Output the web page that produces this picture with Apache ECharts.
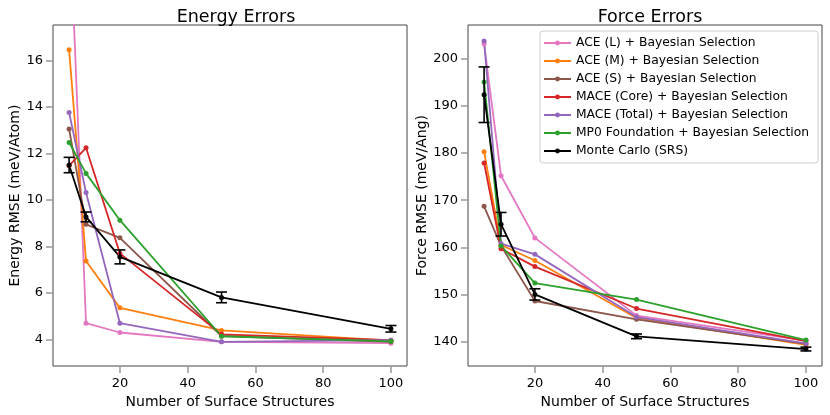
<!DOCTYPE html>
<html>
<head>
<meta charset="utf-8">
<script src="https://cdn.jsdelivr.net/npm/echarts/dist/echarts.min.js"></script>
<style>
  html, body { margin:0; padding:0; background:#fff; }
  #main { width:830px; height:415px; }
</style>
</head>
<body>
<div id="main"></div>
<script>
// x: number of surface structures
var xs = [5, 10, 20, 50, 100];

// 能量误差 Energy RMSE (meV/Atom)
var aceL_E      = [22.8, 4.70, 4.30, 3.90, 3.84];
var aceM_E      = [16.46, 7.37, 5.36, 4.39, 3.95];
var aceS_E      = [13.05, 8.95, 8.37, 4.15, 3.90];
var maceCore_E  = [11.47, 12.24, 7.70, 4.22, 3.97];
var maceTotal_E = [13.76, 10.32, 4.70, 3.90, 3.97];
var mp0_E       = [12.47, 11.14, 9.13, 4.14, 3.92];
var mc_E        = [11.50, 9.27, 7.55, 5.81, 4.46];
var mcErr_E     = [0.33, 0.21, 0.30, 0.23, 0.14];

// 力误差 Force RMSE (meV/Ang)
var aceL_F      = [203.2, 175.2, 162.0, 145.5, 140.2];
var aceM_F      = [180.3, 160.5, 157.2, 145.0, 139.3];
var aceS_F      = [168.7, 160.3, 148.6, 144.7, 139.5];
var maceCore_F  = [177.9, 159.7, 155.9, 147.0, 140.1];
var maceTotal_F = [203.8, 160.8, 158.5, 145.2, 139.6];
var mp0_F       = [195.1, 160.3, 152.4, 148.9, 140.3];
var mc_F        = [192.4, 164.9, 150.0, 141.1, 138.4];
var mcErr_F     = [5.9, 2.5, 1.2, 0.5, 0.4];

var names = ['ACE (L) + Bayesian Selection', 'ACE (M) + Bayesian Selection',
             'ACE (S) + Bayesian Selection', 'MACE (Core) + Bayesian Selection',
             'MACE (Total) + Bayesian Selection', 'MP0 Foundation + Bayesian Selection',
             'Monte Carlo (SRS)'];
var colors = ['#e377c2', '#ff7f0e', '#8c564b', '#d62728', '#9467bd', '#2ca02c', '#000000'];

var xTicks = [20, 40, 60, 80, 100];
var yTicksE = [4, 6, 8, 10, 12, 14, 16];
var yTicksF = [140, 150, 160, 170, 180, 190, 200];

var FONT = 'DejaVu Sans';

function pairs(ys) {
    var out = [];
    for (var i = 0; i < xs.length; i++) out.push([xs[i], ys[i]]);
    return out;
}
function errRows(ys, es) {
    var out = [];
    for (var i = 0; i < xs.length; i++) out.push([xs[i], ys[i] - es[i], ys[i] + es[i]]);
    return out;
}

function xAxisFor(idx) {
    return {
        type: 'value', gridIndex: idx, min: 0.25, max: 104.75,
        name: 'Number of Surface Structures', nameLocation: 'middle', nameGap: 24,
        nameTextStyle: { fontFamily: FONT, fontSize: 14, color: '#000' },
        axisLine: { show: false },
        splitLine: { show: false },
        axisTick: { show: true, inside: false, length: 7, customValues: xTicks,
                    lineStyle: { color: '#999', width: 1.5 } },
        axisLabel: { customValues: xTicks, margin: 11, fontFamily: FONT, fontSize: 13, color: '#000' }
    };
}
function yAxisFor(idx, min, max, ticks, name, gap) {
    return {
        type: 'value', gridIndex: idx, min: min, max: max,
        name: name, nameLocation: 'middle', nameGap: gap,
        nameTextStyle: { fontFamily: FONT, fontSize: 14, color: '#000' },
        axisLine: { show: false },
        splitLine: { show: false },
        axisTick: { show: true, inside: false, length: 7, customValues: ticks,
                    lineStyle: { color: '#999', width: 1.5 } },
        axisLabel: { customValues: ticks, margin: 10, fontFamily: FONT, fontSize: 13, color: '#000' }
    };
}

function lineSeries(name, color, ys, idx) {
    return {
        name: name, type: 'line', xAxisIndex: idx, yAxisIndex: idx,
        data: pairs(ys), symbol: 'circle', symbolSize: 5, clip: true,
        itemStyle: { color: color }, lineStyle: { color: color, width: 1.8 },
        emphasis: { disabled: true }, animation: false
    };
}
// 误差棒
function errSeries(ys, es, idx) {
    return {
        name: 'mc-err-' + idx, type: 'custom', xAxisIndex: idx, yAxisIndex: idx,
        data: errRows(ys, es), animation: false, z: 5,
        renderItem: function (params, api) {
            var lo = api.coord([api.value(0), api.value(1)]);
            var hi = api.coord([api.value(0), api.value(2)]);
            var hw = 5.5;
            var st = { stroke: '#000', lineWidth: 1.6 };
            return { type: 'group', children: [
                { type: 'line', shape: { x1: lo[0], y1: lo[1], x2: hi[0], y2: hi[1] }, style: st },
                { type: 'line', shape: { x1: lo[0] - hw, y1: lo[1], x2: lo[0] + hw, y2: lo[1] }, style: st },
                { type: 'line', shape: { x1: hi[0] - hw, y1: hi[1], x2: hi[0] + hw, y2: hi[1] }, style: st }
            ]};
        }
    };
}

var energySets = [aceL_E, aceM_E, aceS_E, maceCore_E, maceTotal_E, mp0_E, mc_E];
var forceSets  = [aceL_F, aceM_F, aceS_F, maceCore_F, maceTotal_F, mp0_F, mc_F];

var series = [];
for (var i = 0; i < names.length; i++) series.push(lineSeries(names[i], colors[i], energySets[i], 0));
series.push(errSeries(mc_E, mcErr_E, 0));
for (var i = 0; i < names.length; i++) series.push(lineSeries(names[i], colors[i], forceSets[i], 1));
series.push(errSeries(mc_F, mcErr_F, 1));

var myChart = echarts.init(document.getElementById('main'));
var option = {
    backgroundColor: '#fff',
    animation: false,
    textStyle: { fontFamily: FONT },
    title: [
        { text: 'Energy Errors', left: 231, top: 3, textAlign: 'center',
          textStyle: { fontFamily: FONT, fontSize: 17.5, fontWeight: 'normal', color: '#000' } },
        { text: 'Force Errors', left: 645, top: 3, textAlign: 'center',
          textStyle: { fontFamily: FONT, fontSize: 17.5, fontWeight: 'normal', color: '#000' } }
    ],
    legend: {
        data: names, orient: 'vertical', left: 540, top: 31,
        itemWidth: 27, itemHeight: 6, itemGap: 6,
        padding: [6, 9, 6, 3],
        backgroundColor: '#fff', borderColor: '#ccc', borderWidth: 1, borderRadius: 3,
        textStyle: { fontFamily: FONT, fontSize: 12.3, color: '#000' },
        selectedMode: false
    },
    grid: [
        { left: 53, top: 25, width: 354, height: 341, show: true, borderColor: '#444', borderWidth: 1 },
        { left: 468, top: 25, width: 354, height: 341, show: true, borderColor: '#444', borderWidth: 1 }
    ],
    xAxis: [xAxisFor(0), xAxisFor(1)],
    yAxis: [
        yAxisFor(0, 2.86, 17.52, yTicksE, 'Energy RMSE (meV/Atom)', 30),
        yAxisFor(1, 134.8, 207.2, yTicksF, 'Force RMSE (meV/Ang)', 37)
    ],
    series: series
};
myChart.setOption(option);
</script>
</body>
</html>
